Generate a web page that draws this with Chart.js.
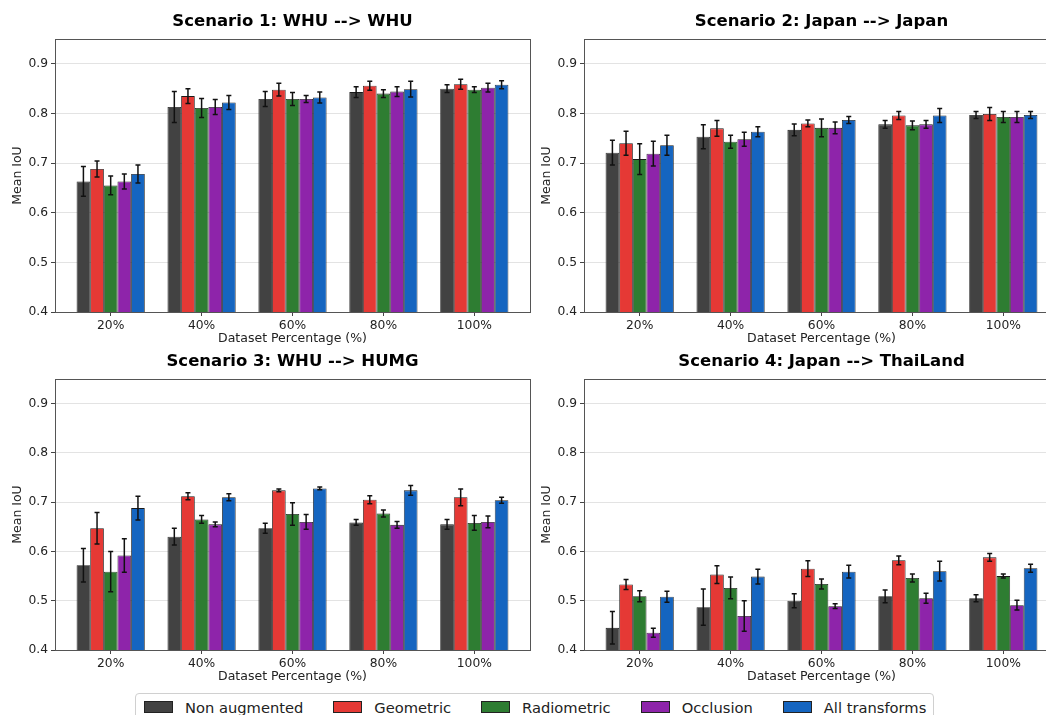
<!DOCTYPE html>
<html>
<head>
<meta charset="utf-8">
<script src="https://cdn.jsdelivr.net/npm/chart.js@4.4.0/dist/chart.umd.min.js"></script>
<style>
  html, body { margin: 0; padding: 0; background: #fff; }
  #page { position: relative; width: 1046px; height: 715px; overflow: hidden; font-family: "DejaVu Sans", sans-serif; }
  canvas { position: absolute; }
  #legend { position: absolute; left: 135px; top: 693px; width: 799px; height: 28px; box-sizing: border-box;
            border: 1px solid #d0d0d0; border-radius: 4px; display: flex; align-items: center; padding-left: 8px; font-size: 14.7px; color: #222; white-space: nowrap; }
  .item { display: flex; align-items: center; margin-right: 30px; flex-shrink: 0; }
  .sw { width: 29px; height: 12px; border: 1px solid #222; margin-right: 12px; box-sizing: border-box; flex-shrink: 0; }
</style>
</head>
<body>
<div id="page">
  <canvas id="c1" width="540" height="352" style="left:0;top:0"></canvas>
  <canvas id="c2" width="540" height="352" style="left:529px;top:0"></canvas>
  <canvas id="c3" width="540" height="350" style="left:0;top:340px"></canvas>
  <canvas id="c4" width="540" height="350" style="left:529px;top:340px"></canvas>
  <div id="legend"></div>
</div>
<script>
// categories / series
var xLabels = ['20%', '40%', '60%', '80%', '100%'];
var yTicks = [0.4, 0.5, 0.6, 0.7, 0.8, 0.9];
var seriesNames = ['Non augmented', 'Geometric', 'Radiometric', 'Occlusion', 'All transforms'];
var seriesColors = ['#424242', '#e53935', '#2e7d32', '#8e24aa', '#1565c0'];

// Scenario 1: WHU --> WHU  (one row per series, one column per dataset %)
var s1Mean = [
  [0.663, 0.813, 0.829, 0.843, 0.850],
  [0.688, 0.835, 0.848, 0.856, 0.859],
  [0.655, 0.811, 0.829, 0.840, 0.848],
  [0.663, 0.813, 0.829, 0.844, 0.852],
  [0.678, 0.822, 0.832, 0.849, 0.858]
];
var s1Err = [
  [0.030, 0.031, 0.015, 0.011, 0.008],
  [0.016, 0.015, 0.013, 0.009, 0.010],
  [0.019, 0.019, 0.013, 0.008, 0.006],
  [0.015, 0.015, 0.007, 0.010, 0.009],
  [0.018, 0.014, 0.011, 0.016, 0.008]
];

// Scenario 2: Japan --> Japan
var s2Mean = [
  [0.721, 0.753, 0.767, 0.778, 0.797],
  [0.740, 0.770, 0.780, 0.796, 0.799],
  [0.708, 0.743, 0.771, 0.776, 0.793],
  [0.719, 0.748, 0.771, 0.778, 0.793],
  [0.736, 0.763, 0.787, 0.796, 0.797]
];
var s2Err = [
  [0.025, 0.024, 0.012, 0.008, 0.007],
  [0.024, 0.016, 0.007, 0.008, 0.013],
  [0.031, 0.013, 0.018, 0.009, 0.011],
  [0.025, 0.014, 0.012, 0.008, 0.011],
  [0.020, 0.010, 0.007, 0.014, 0.007]
];

// Scenario 3: WHU --> HUMG
var s3Mean = [
  [0.572, 0.630, 0.647, 0.659, 0.655],
  [0.647, 0.712, 0.724, 0.705, 0.710],
  [0.559, 0.665, 0.676, 0.677, 0.658],
  [0.592, 0.655, 0.660, 0.654, 0.660],
  [0.688, 0.710, 0.728, 0.724, 0.704]
];
var s3Err = [
  [0.034, 0.017, 0.010, 0.006, 0.010],
  [0.032, 0.007, 0.003, 0.008, 0.017],
  [0.041, 0.008, 0.023, 0.007, 0.015],
  [0.034, 0.005, 0.015, 0.007, 0.012],
  [0.024, 0.007, 0.003, 0.010, 0.006]
];

// Scenario 4: Japan --> ThaiLand
var s4Mean = [
  [0.445, 0.487, 0.500, 0.509, 0.505],
  [0.533, 0.553, 0.565, 0.582, 0.588],
  [0.509, 0.526, 0.534, 0.546, 0.550],
  [0.435, 0.469, 0.489, 0.505, 0.491],
  [0.508, 0.549, 0.559, 0.560, 0.566]
];
var s4Err = [
  [0.033, 0.037, 0.014, 0.013, 0.007],
  [0.010, 0.018, 0.016, 0.009, 0.008],
  [0.011, 0.022, 0.010, 0.008, 0.004],
  [0.009, 0.031, 0.005, 0.010, 0.010],
  [0.011, 0.015, 0.013, 0.020, 0.008]
];

Chart.defaults.font.family = '"DejaVu Sans", sans-serif';
Chart.defaults.color = '#222';

// error bars drawn on top of the bars, through the y scale
var errorBars = {
  id: 'errorBars',
  afterDatasetsDraw(chart) {
    var ctx = chart.ctx, y = chart.scales.y;
    ctx.save();
    ctx.strokeStyle = '#111';
    ctx.lineWidth = 1.5;
    chart.data.datasets.forEach((ds, i) => {
      chart.getDatasetMeta(i).data.forEach((bar, j) => {
        var m = ds.data[j].y, e = ds.errors[j];
        var top = y.getPixelForValue(m + e), bot = y.getPixelForValue(m - e);
        ctx.beginPath();
        ctx.moveTo(bar.x, top); ctx.lineTo(bar.x, bot);
        ctx.moveTo(bar.x - 2.5, top); ctx.lineTo(bar.x + 2.5, top);
        ctx.moveTo(bar.x - 2.5, bot); ctx.lineTo(bar.x + 2.5, bot);
        ctx.stroke();
      });
    });
    ctx.restore();
  }
};

// box round the plot area + panel title centred over the axes
var frame = {
  id: 'frame',
  afterDraw(chart, args, opts) {
    var a = chart.chartArea, ctx = chart.ctx;
    ctx.save();
    ctx.strokeStyle = '#555';
    ctx.lineWidth = 1;
    ctx.strokeRect(Math.round(a.left) + 0.5, Math.round(a.top) + 0.5, Math.round(a.right - a.left), Math.round(a.bottom - a.top));
    ctx.fillStyle = '#000';
    ctx.font = 'bold 16.5px "DejaVu Sans", sans-serif';
    ctx.textAlign = 'center';
    ctx.textBaseline = 'middle';
    ctx.fillText(opts.text, (a.left + a.right) / 2, 22);
    ctx.restore();
  }
};

function makeChart(id, title, means, errs) {
  var datasets = seriesNames.map((name, i) => ({
    label: name,
    data: means[i].map((v, j) => ({ x: j, y: v })),
    errors: errs[i],
    backgroundColor: seriesColors[i],
    borderColor: '#1a1a1a',
    borderWidth: 0.8,
    borderSkipped: false
  }));

  return new Chart(document.getElementById(id), {
    type: 'bar',
    data: { datasets: datasets },
    plugins: [errorBars, frame],
    options: {
      responsive: false,
      animation: false,
      categoryPercentage: 0.75,
      barPercentage: 1.0,
      layout: { padding: { top: 39, right: 10, bottom: 0, left: 0 } },
      plugins: {
        legend: { display: false },
        tooltip: { enabled: false },
        title: { display: false },
        frame: { text: title }
      },
      scales: {
        x: {
          type: 'linear',
          offset: false,
          bounds: 'data',
          min: -0.6125,
          max: 4.6125,
          afterBuildTicks: (s) => { s.ticks = xLabels.map((_, i) => ({ value: i })); },
          afterFit: (s) => { s.height = 40; },
          ticks: {
            font: { size: 12.3 },
            padding: 2,
            autoSkip: false,
            maxRotation: 0,
            callback: (v) => xLabels[Math.round(v)]
          },
          grid: { offset: false, drawOnChartArea: false, tickLength: 4, color: '#444' },
          border: { display: false },
          title: {
            display: true,
            text: 'Dataset Percentage (%)',
            font: { size: 12.5 },
            padding: { top: 2, bottom: 6 }
          }
        },
        y: {
          min: 0.4,
          max: 0.95,
          afterBuildTicks: (s) => { s.ticks = yTicks.map((v) => ({ value: v })); },
          afterFit: (s) => { s.width = 55; },
          ticks: {
            font: { size: 12.3 },
            padding: 3,
            callback: (v) => v.toFixed(1)
          },
          grid: {
            color: '#dcdcdc',
            lineWidth: 0.8,
            borderDash: [1, 2],
            tickLength: 4,
            tickColor: '#444',
            tickWidth: 1,
            tickBorderDash: []
          },
          border: { display: false },
          title: {
            display: true,
            text: 'Mean IoU',
            font: { size: 12.5 },
            padding: { top: 10.5, bottom: 0 }
          }
        }
      }
    }
  });
}

makeChart('c1', 'Scenario 1: WHU --> WHU', s1Mean, s1Err);
makeChart('c2', 'Scenario 2: Japan --> Japan', s2Mean, s2Err);
makeChart('c3', 'Scenario 3: WHU --> HUMG', s3Mean, s3Err);
makeChart('c4', 'Scenario 4: Japan --> ThaiLand', s4Mean, s4Err);

// shared legend under the four panels
var legend = document.getElementById('legend');
seriesNames.forEach((name, i) => {
  var item = document.createElement('div');
  item.className = 'item';
  var sw = document.createElement('span');
  sw.className = 'sw';
  sw.style.background = seriesColors[i];
  var txt = document.createElement('span');
  txt.textContent = name;
  item.appendChild(sw);
  item.appendChild(txt);
  legend.appendChild(item);
});
</script>
</body>
</html>
